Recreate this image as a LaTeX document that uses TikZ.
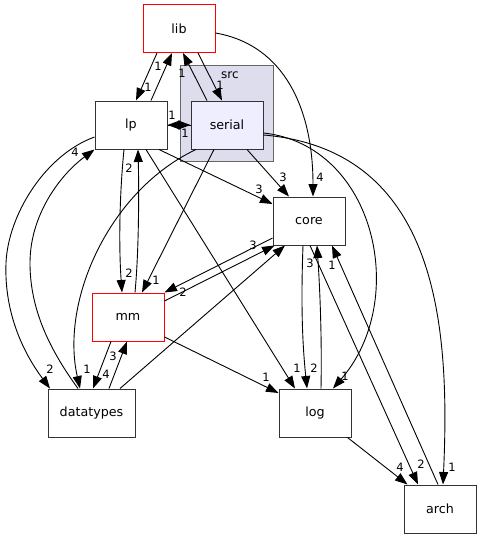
\documentclass[tikz,border=0pt]{standalone}
\usepackage{fontspec}
\setmainfont{DejaVu Sans}
\usetikzlibrary{arrows.meta}
\definecolor{clus}{RGB}{221,221,238}
\definecolor{sel}{RGB}{238,238,255}

\begin{document}
\begin{tikzpicture}[
        x=1pt, y=-1pt,
        box/.style={rectangle, draw=black!80, fill=white, line width=1pt, minimum width=72pt, minimum height=48pt, inner sep=0pt, font=\fontsize{12.7}{15}\selectfont},
        hot/.style={box, draw=red},
        sub/.style={box, fill=sel},
        num/.style={inner sep=0pt, font=\fontsize{11.5}{13}\selectfont},
        dep/.style={draw=black, line width=0.9pt, -{Triangle[length=12.5pt,width=9pt]}},
    ]
    \useasboundingbox (0,0) rectangle (482,539);

    \node[draw=black!60, fill=clus, line width=1pt, minimum width=93pt, minimum height=96pt] (srcbox) at (226.5,113) {};
    \node[num, font=\fontsize{12}{14}\selectfont] (src) at (230,75) {src};

    \node[hot] (lib) at (179,28.5) {lib};
    \node[box] (lp) at (131,125) {lp};
    \node[sub] (serial) at (227,125) {serial};
    \node[box] (core) at (309,221) {core};
    \node[hot] (mm) at (128,317) {mm};
    \node[box, minimum width=87pt] (datatypes) at (91.5,413) {datatypes};
    \node[box] (log) at (315,413) {log};
    \node[box] (arch) at (440,509) {arch};

    \path
    ([xshift=-22pt]lib.south) edge[dep] ([xshift=5pt]lp.north)
    ([xshift=20pt]lp.north) edge[dep] ([xshift=-7pt]lib.south)
    ([xshift=19pt]lib.south) edge[dep] ([xshift=-5pt]serial.north)
    ([xshift=-20pt]serial.north) edge[dep] ([xshift=4pt]lib.south)
    (lp.east) edge[dep] (serial.west)
    (serial.west) edge[dep] (lp.east)
    ([xshift=20pt]serial.south) edge[dep] ([xshift=-20pt]core.north)
    ([xshift=28pt]lp.south) edge[dep] ([yshift=17pt]core.west)
    ([xshift=-13pt]serial.south) edge[dep] ([xshift=14pt]mm.north)
    ([xshift=15pt]lp.south) edge[dep] ([xshift=-20pt]log.north)
    ([yshift=-17pt]core.west) edge[dep] (mm.north east)
    ([yshift=16pt]mm.east) edge[dep] ([xshift=2pt]core.south west)
    ([xshift=28.5pt]datatypes.north) edge[dep] ([xshift=-24pt]core.south)
    ([yshift=-20pt]mm.east) edge[dep] ([yshift=20pt]log.west)
    ([xshift=-17pt]mm.south) edge[dep] ([xshift=1.5pt]datatypes.north)
    ([xshift=17.5pt]datatypes.north) edge[dep] ([xshift=-1pt]mm.south)
    ([xshift=1pt]core.south) edge[dep] ([xshift=-22pt]arch.north)
    ([xshift=-2pt]arch.north) edge[dep] ([xshift=23pt]core.south)
    ([xshift=-4pt]log.south east) edge[dep] ([xshift=4pt]arch.north west)
    ;

    % curved ones
    \draw[dep] ([yshift=-4.5pt]lib.east) .. controls (285,45) and (313,110) .. ([xshift=4pt]core.north);
    \draw[dep] ([yshift=-8pt]serial.east) .. controls (375,145) and (410,300) .. ([xshift=18pt]log.north);
    \draw[dep] ([yshift=-10pt]serial.east) .. controls (440,150) and (450,330) .. ([xshift=3pt]arch.north);
    \draw[dep] ([xshift=-31pt]serial.south) .. controls (110,190) and (60,300) .. ([xshift=-11.5pt]datatypes.north);
    \draw[dep] ([xshift=-7pt]lp.south) .. controls (119,200) and (119,250) .. ([xshift=-6pt]mm.north);
    \draw[dep] ([xshift=7pt]mm.north) .. controls (139,250) and (139,190) .. ([xshift=7pt]lp.south);
    \draw[dep] ([yshift=-12pt]lp.west) .. controls (45,155) and (8,215) .. (6,263) .. controls (4,315) and (25,355) .. ([xshift=-41.5pt]datatypes.north);
    \draw[dep] ([xshift=-13.5pt]datatypes.north) .. controls (50,350) and (30,310) .. (30,263) .. controls (30,215) and (60,175) .. (lp.south west);
    \draw[dep] ([xshift=-6pt]core.south) .. controls (301,300) and (302,340) .. ([xshift=-8pt]log.north);
    \draw[dep] ([xshift=6pt]log.north) .. controls (322,340) and (320,290) .. ([xshift=8pt]core.south);

    \node[num] (n1) at (148,87) {1};
    \node[num] (n2) at (158,66) {1};
    \node[num] (n3) at (220,85) {1};
    \node[num] (n4) at (182,73) {1};
    \node[num] (n5) at (172,115) {1};
    \node[num] (n6) at (185,133) {1};
    \node[num] (n7) at (320,177) {4};
    \node[num] (n8) at (283,177) {3};
    \node[num] (n9) at (259,189) {3};
    \node[num] (n10) at (345,376) {1};
    \node[num] (n11) at (452,467) {1};
    \node[num] (n12) at (156,280) {1};
    \node[num] (n13) at (87,369) {1};
    \node[num] (n14) at (129,273) {2};
    \node[num] (n15) at (129,168) {2};
    \node[num] (n16) at (50,369) {2};
    \node[num] (n17) at (75,152) {4};
    \node[num] (n18) at (297,368) {1};
    \node[num] (n19) at (183,292) {2};
    \node[num] (n20) at (253,245) {3};
    \node[num] (n21) at (266,377) {1};
    \node[num] (n22) at (106,374) {4};
    \node[num] (n23) at (113,356) {3};
    \node[num] (n24) at (314,368) {2};
    \node[num] (n25) at (310,263) {3};
    \node[num] (n26) at (421,464) {2};
    \node[num] (n27) at (332,265) {1};
    \node[num] (n28) at (400,467) {4};
\end{tikzpicture}
\end{document}
